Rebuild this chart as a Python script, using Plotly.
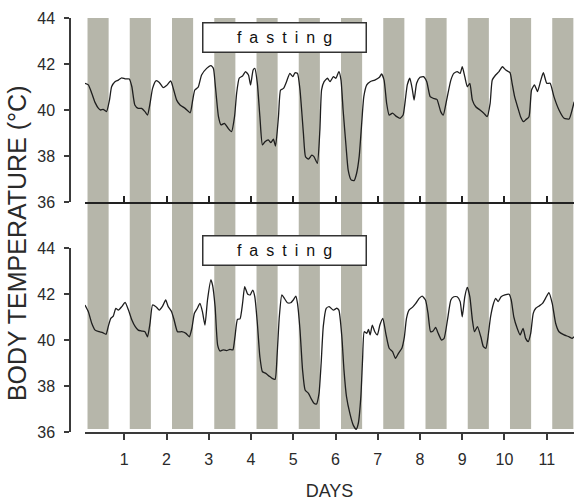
import plotly.graph_objects as go

# ---------------- data ----------------
top_days = [0.07, 0.15, 0.23, 0.31, 0.39, 0.44, 0.50, 0.58, 0.65, 0.70, 0.78, 0.86, 0.94, 1.02, 1.12,
            1.18, 1.25, 1.33, 1.41, 1.49, 1.55, 1.61, 1.67, 1.75, 1.83, 1.92, 2.00, 2.10, 2.16, 2.24,
            2.32, 2.44, 2.56, 2.62, 2.67, 2.75, 2.83, 2.95, 3.05, 3.11, 3.15, 3.23, 3.29, 3.37, 3.46,
            3.54, 3.61, 3.66, 3.72, 3.80, 3.87, 3.94, 3.99, 4.05, 4.09, 4.15, 4.21, 4.27, 4.33, 4.41,
            4.47, 4.53, 4.58, 4.65, 4.70, 4.77, 4.84, 4.92, 4.99, 5.04, 5.10, 5.16, 5.24, 5.29, 5.36,
            5.44, 5.49, 5.57, 5.63, 5.67, 5.73, 5.81, 5.87, 5.95, 6.01, 6.08, 6.13, 6.18, 6.25, 6.30,
            6.37, 6.44, 6.50, 6.56, 6.62, 6.67, 6.74, 6.82, 6.93, 7.04, 7.09, 7.15, 7.21, 7.27, 7.35,
            7.45, 7.53, 7.60, 7.65, 7.70, 7.76, 7.82, 7.86, 7.92, 8.00, 8.08, 8.16, 8.24, 8.31, 8.40,
            8.49, 8.55, 8.63, 8.73, 8.80, 8.88, 8.95, 9.00, 9.06, 9.12, 9.18, 9.24, 9.32, 9.42, 9.51,
            9.59, 9.66, 9.71, 9.79, 9.87, 9.95, 10.03, 10.13, 10.18, 10.24, 10.32, 10.38, 10.45, 10.50,
            10.58, 10.64, 10.71, 10.78, 10.86, 10.92, 11.00, 11.08, 11.17, 11.29, 11.41, 11.53, 11.60, 11.65]
top_temp = [41.16, 41.09, 40.73, 40.32, 40.07, 40.00, 40.03, 39.93, 40.43, 41.01, 41.23, 41.30, 41.40, 41.35, 41.35,
            41.01, 40.22, 40.07, 40.07, 39.93, 39.78, 40.29, 40.94, 41.27, 41.20, 40.97, 41.06, 41.26, 40.94, 40.43,
            40.22, 40.07, 39.88, 40.43, 40.87, 40.99, 41.52, 41.81, 41.93, 41.81, 41.16, 39.71, 39.35, 39.42, 39.20,
            39.06, 39.71, 40.73, 41.38, 41.48, 41.67, 41.52, 41.09, 41.74, 41.81, 41.16, 39.71, 38.48, 38.62, 38.70,
            38.58, 38.73, 38.43, 39.71, 40.87, 40.94, 41.23, 41.59, 41.45, 41.62, 41.59, 40.87, 38.99, 37.97, 37.86,
            38.04, 37.97, 37.68, 39.13, 40.87, 41.23, 41.38, 41.23, 41.45, 41.38, 41.67, 41.30, 40.00, 38.41, 37.39,
            36.96, 36.93, 37.25, 37.97, 39.42, 40.58, 41.09, 41.23, 41.30, 41.42, 41.57, 41.30, 40.29, 39.78, 39.86,
            39.71, 39.64, 39.78, 40.40, 41.10, 41.38, 40.87, 40.43, 41.16, 41.42, 41.45, 41.23, 40.58, 40.51, 40.46,
            39.93, 39.78, 40.43, 41.30, 41.59, 41.67, 41.59, 41.88, 41.45, 41.01, 41.16, 40.43, 40.14, 40.00, 39.86,
            39.71, 40.29, 41.30, 41.52, 41.67, 41.88, 41.74, 41.62, 41.16, 40.58, 40.07, 39.71, 39.49, 39.57,
            39.71, 40.87, 41.09, 40.80, 41.30, 41.62, 41.16, 41.16, 40.58, 40.00, 39.64, 39.61, 40.00, 40.36]

bot_days = [0.07, 0.15, 0.23, 0.31, 0.41, 0.49, 0.57, 0.62, 0.68, 0.74, 0.80, 0.86, 0.94, 1.02, 1.10,
            1.18, 1.26, 1.33, 1.41, 1.49, 1.55, 1.61, 1.67, 1.75, 1.83, 1.91, 1.98, 2.04, 2.12, 2.18,
            2.26, 2.36, 2.46, 2.54, 2.60, 2.66, 2.73, 2.79, 2.85, 2.91, 2.97, 3.05, 3.09, 3.15, 3.21,
            3.27, 3.34, 3.42, 3.50, 3.57, 3.62, 3.68, 3.74, 3.80, 3.85, 3.92, 3.98, 4.04, 4.09, 4.15,
            4.21, 4.27, 4.35, 4.43, 4.50, 4.57, 4.62, 4.67, 4.73, 4.79, 4.86, 4.94, 5.00, 5.06, 5.10,
            5.16, 5.22, 5.28, 5.36, 5.42, 5.49, 5.55, 5.61, 5.66, 5.71, 5.78, 5.85, 5.95, 6.03, 6.08,
            6.15, 6.20, 6.26, 6.34, 6.42, 6.49, 6.54, 6.60, 6.64, 6.68, 6.74, 6.78, 6.82, 6.87, 6.93,
            6.99, 7.05, 7.12, 7.19, 7.27, 7.35, 7.42, 7.49, 7.57, 7.63, 7.68, 7.74, 7.82, 7.90, 7.98,
            8.05, 8.13, 8.19, 8.25, 8.31, 8.37, 8.43, 8.51, 8.57, 8.65, 8.73, 8.80, 8.88, 8.95, 9.00,
            9.06, 9.12, 9.18, 9.24, 9.29, 9.36, 9.44, 9.50, 9.56, 9.61, 9.67, 9.74, 9.79, 9.85, 9.92,
            10.01, 10.11, 10.16, 10.22, 10.30, 10.37, 10.44, 10.50, 10.56, 10.62, 10.68, 10.74, 10.82,
            10.90, 10.97, 11.05, 11.13, 11.21, 11.29, 11.41, 11.53, 11.60, 11.65]
bot_temp = [41.52, 41.23, 40.73, 40.43, 40.36, 40.32, 40.25, 40.58, 40.94, 41.04, 41.38, 41.30, 41.45, 41.64, 41.30,
            40.87, 40.58, 40.43, 40.39, 40.36, 40.14, 40.73, 41.52, 41.45, 41.30, 41.48, 41.74, 41.45, 41.23, 40.87,
            40.36, 40.36, 40.29, 40.14, 40.51, 41.16, 41.38, 41.59, 41.23, 40.65, 41.74, 42.61, 42.39, 41.45, 39.78,
            39.52, 39.57, 39.54, 39.59, 39.57, 40.14, 40.90, 40.92, 41.59, 42.32, 42.00, 41.96, 42.17, 41.88, 40.73,
            39.27, 38.62, 38.55, 38.43, 38.33, 38.29, 39.42, 41.01, 41.96, 41.81, 41.62, 41.62, 41.74, 41.91, 41.59,
            40.43, 38.70, 37.83, 37.68, 37.46, 37.25, 37.22, 37.68, 38.99, 40.58, 41.38, 41.45, 41.30, 41.38, 41.30,
            40.14, 38.70, 37.54, 36.81, 36.30, 36.12, 36.38, 37.54, 39.13, 40.36, 40.29, 40.46, 40.22, 40.65, 40.36,
            40.22, 40.65, 40.94, 40.29, 39.64, 39.49, 39.20, 39.42, 39.64, 40.14, 40.94, 41.30, 41.42, 41.59, 41.81,
            41.91, 41.74, 41.16, 40.36, 40.39, 40.55, 40.29, 40.00, 40.07, 40.87, 41.74, 41.88, 41.88, 41.67, 41.01,
            41.88, 42.29, 41.88, 40.87, 40.36, 40.58, 40.14, 39.71, 39.64, 40.14, 41.01, 41.59, 41.81, 41.67, 41.88,
            41.96, 41.99, 41.74, 41.01, 40.51, 40.22, 40.51, 40.07, 39.93, 40.29, 41.16, 41.38, 41.48,
            41.59, 41.81, 42.06, 41.59, 40.73, 40.36, 40.22, 40.14, 40.07, 40.14]

dark_start = [0.13, 1.13, 2.13, 3.13, 4.13, 5.13, 6.13, 7.13, 8.13, 9.13, 10.13, 11.13]
dark_end = [0.63, 1.63, 2.63, 3.63, 4.63, 5.63, 6.63, 7.63, 8.63, 9.63, 10.63, 11.63]

day_ticks = [1, 2, 3, 4, 5, 6, 7, 8, 9, 10, 11]
temp_ticks = [36, 38, 40, 42, 44]

fasting_label = "f\u2002a\u2002s\u2002t\u2002i\u2002n\u2002g"
fasting_start, fasting_end = 2.84, 6.75

# ---------------- style ----------------
FONT = "Liberation Sans, Arial, sans-serif"
AX = "#3a3a3a"
TXT = "#2a2a2a"
BAND = "#b6b6aa"
LINE = "#1e1e1e"

TOP_DOM = [0.5556, 1.0]
BOT_DOM = [0.0, 0.4444]
X_RANGE = [0.071, 11.645]
Y_RANGE = [36, 44]

fig = go.Figure()
fig.add_trace(go.Scatter(x=top_days, y=top_temp, xaxis="x2", yaxis="y", mode="lines",
                         line=dict(color=LINE, width=1.3, shape="spline", smoothing=0.5),
                         showlegend=False, hoverinfo="skip"))
fig.add_trace(go.Scatter(x=bot_days, y=bot_temp, xaxis="x", yaxis="y2", mode="lines",
                         line=dict(color=LINE, width=1.3, shape="spline", smoothing=0.5),
                         showlegend=False, hoverinfo="skip"))

# dark-phase bands spanning both panels
band_bottom = BOT_DOM[0] + (BOT_DOM[1] - BOT_DOM[0]) * (36.13 - Y_RANGE[0]) / (Y_RANGE[1] - Y_RANGE[0])
shapes = []
for s, e in zip(dark_start, dark_end):
    shapes.append(dict(type="rect", xref="x", yref="paper", x0=s, x1=e, y0=band_bottom, y1=1.0,
                       fillcolor=BAND, line=dict(width=0), layer="below"))

axis_common = dict(range=Y_RANGE, tickvals=temp_ticks, ticktext=[str(t) for t in temp_ticks],
                   ticks="outside", ticklen=5, tickwidth=1.5, tickcolor=AX,
                   showline=True, linecolor=AX, linewidth=1.5, showgrid=False, zeroline=False,
                   tickfont=dict(family=FONT, size=16, color=TXT), anchor="free", position=0,
                   ticklabelstandoff=6)

fig.update_layout(
    width=574, height=501,
    margin=dict(l=70, r=0, t=18, b=69),
    plot_bgcolor="white", paper_bgcolor="white",
    xaxis=dict(domain=[0.0298, 1], range=X_RANGE, anchor="y2", tickvals=day_ticks,
               ticktext=[str(d) for d in day_ticks], ticks="outside", ticklen=6, tickwidth=1.5,
               tickcolor=AX, showline=True, linecolor=AX, linewidth=1.5, showgrid=False,
               zeroline=False, tickfont=dict(family=FONT, size=16, color=TXT),
               ticklabelstandoff=6,
               title=dict(text="DAYS", font=dict(family=FONT, size=18, color=TXT), standoff=20)),
    xaxis2=dict(domain=[0.0298, 1], range=X_RANGE, anchor="y", matches="x", tickvals=day_ticks,
                ticks="inside", ticklen=6, tickwidth=1.5, tickcolor="#222",
                showticklabels=False, showline=True, linecolor="#222", linewidth=1.5,
                showgrid=False, zeroline=False),
    yaxis=dict(domain=TOP_DOM, **axis_common),
    yaxis2=dict(domain=BOT_DOM, **axis_common),
    shapes=shapes,
    annotations=[
        dict(text=fasting_label, xref="x2", yref="y", x=(fasting_start + fasting_end) / 2, y=43.17,
             showarrow=False, width=162, height=28, bgcolor="white", bordercolor="#333",
             borderwidth=1.5, borderpad=0, font=dict(family=FONT, size=16, color="#111")),
        dict(text=fasting_label, xref="x", yref="y2", x=(fasting_start + fasting_end) / 2, y=43.9,
             showarrow=False, width=162, height=28, bgcolor="white", bordercolor="#333",
             borderwidth=1.5, borderpad=0, font=dict(family=FONT, size=16, color="#111")),
        dict(text="BODY TEMPERATURE (°C)", xref="paper", yref="paper", x=-0.105, y=0.4565,
             xanchor="center", yanchor="middle", textangle=-90, showarrow=False,
             font=dict(family=FONT, size=25, color=TXT)),
    ],
)

fig.write_html("out.html", config={"displayModeBar": False},
               post_script="document.body.style.margin='0px';")
